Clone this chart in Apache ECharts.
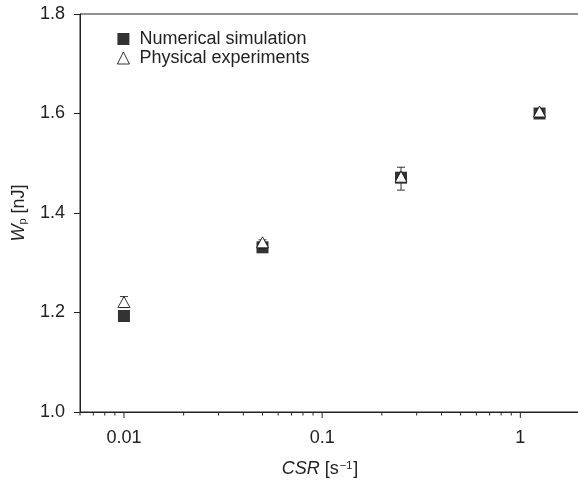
<!DOCTYPE html>
<html>
<head>
<meta charset="utf-8">
<script src="https://cdn.jsdelivr.net/npm/echarts@6/dist/echarts.min.js"></script>
<style>html,body{margin:0;padding:0;background:#fff;}#chart{width:578px;height:480px;}</style>
</head>
<body>
<div id="chart"></div>
<script>
const csrValues = [0.01, 0.05, 0.25, 1.25];
const numerical = [1.193, 1.331, 1.471, 1.600];
const experiments = [1.221, 1.341, 1.473, 1.604];
const expLow = [1.210, 1.336, 1.446, 1.599];
const expHigh = [1.232, 1.346, 1.492, 1.609];
const majorTicks = [0.01, 0.1, 1];
const majorTickLabels = ['0.01', '0.1', '1'];
const minorTicks = [0.006, 0.007, 0.008, 0.009, 0.02, 0.03, 0.04, 0.05, 0.06, 0.07, 0.08, 0.09,
  0.2, 0.3, 0.4, 0.5, 0.6, 0.7, 0.8, 0.9, 2];
const yMin = 1.0, yMax = 1.8, yStep = 0.2;
const xMin = 0.006, xMax = 2;

const FONT = 'Liberation Sans';
const TXT = '#222';

const tickData = majorTicks.map(v => [v, yMin, 6]).concat(minorTicks.map(v => [v, yMin, 3.5]));

const chart = echarts.init(document.getElementById('chart'));
chart.setOption({
  animation: false,
  textStyle: { fontFamily: FONT },
  grid: { left: 80, top: 14, right: -2, bottom: 68, containLabel: false, outerBoundsMode: 'none',
    show: true, borderColor: TXT, borderWidth: 1, backgroundColor: 'transparent' },
  legend: {
    orient: 'vertical', left: 112, top: 25, itemWidth: 12, itemHeight: 12, itemGap: 1,
    textStyle: { fontFamily: FONT, fontSize: 18, color: TXT, lineHeight: 18, padding: [0, 0, 0, 5] },
    data: [
      { name: 'Numerical simulation' },
      { name: 'Physical experiments', itemStyle: { borderWidth: 0.8 } }
    ]
  },
  xAxis: {
    type: 'log', logBase: 10, min: xMin, max: xMax,
    axisLine: { lineStyle: { color: TXT, width: 1 } },
    axisTick: { show: false },
    splitLine: { show: false },
    axisLabel: {
      fontSize: 18, color: TXT, margin: 17, showMinLabel: false, showMaxLabel: false,
      formatter: function (v) {
        for (let i = 0; i < majorTicks.length; i++) {
          if (Math.abs(Math.log10(v) - Math.log10(majorTicks[i])) < 1e-6) return majorTickLabels[i];
        }
        return '';
      }
    },
    name: '{i|CSR}{n| [s}{sup|\u22121}{n|]}',
    nameLocation: 'middle', nameGap: 48,
    nameTextStyle: {
      padding: [0, 20, 0, 0],
      rich: {
        i: { fontFamily: FONT, fontSize: 18, fontStyle: 'italic', color: TXT },
        n: { fontFamily: FONT, fontSize: 18, color: TXT },
        sup: { fontFamily: FONT, fontSize: 11, color: TXT, verticalAlign: 'top', padding: [0, 1, 4, 1] }
      }
    }
  },
  yAxis: {
    type: 'value', min: yMin, max: yMax, interval: yStep,
    axisLine: { show: true, lineStyle: { color: TXT, width: 1 } },
    axisTick: { show: true, inside: false, length: 6, lineStyle: { color: TXT } },
    splitLine: { show: false },
    axisLabel: { fontSize: 18, color: TXT, margin: 15, formatter: v => v.toFixed(1) },
    name: '{i|W}{s|p}{n| [nJ]}',
    nameLocation: 'middle', nameGap: 52, nameRotate: 90,
    nameTextStyle: {
      rich: {
        i: { fontFamily: FONT, fontSize: 18, fontStyle: 'italic', color: TXT },
        s: { fontFamily: FONT, fontSize: 11, color: TXT, verticalAlign: 'bottom', padding: [4, 0, 0, 0] },
        n: { fontFamily: FONT, fontSize: 18, color: TXT }
      }
    }
  },
  series: [
    {
      type: 'custom', name: 'ticks', silent: true, clip: false, z: 1,
      data: tickData,
      renderItem: function (params, api) {
        const p = api.coord([api.value(0), api.value(1)]);
        const len = api.value(2);
        return { type: 'line', shape: { x1: p[0], y1: p[1], x2: p[0], y2: p[1] + len }, style: { stroke: TXT, lineWidth: 1 } };
      }
    },
    {
      type: 'scatter', name: 'Numerical simulation', symbol: 'rect', symbolSize: 12, z: 2,
      itemStyle: { color: '#000', borderColor: '#000', borderWidth: 0 },
      data: csrValues.map((x, i) => [x, numerical[i]])
    },
    {
      type: 'custom', name: 'errors', silent: true, clip: false, z: 3,
      data: csrValues.map((x, i) => [x, expLow[i], expHigh[i]]),
      renderItem: function (params, api) {
        const lo = api.coord([api.value(0), api.value(1)]);
        const hi = api.coord([api.value(0), api.value(2)]);
        const w = 4;
        const st = { stroke: '#333', lineWidth: 1 };
        return { type: 'group', children: [
          { type: 'line', shape: { x1: lo[0], y1: lo[1], x2: hi[0], y2: hi[1] }, style: st },
          { type: 'line', shape: { x1: lo[0] - w, y1: lo[1], x2: lo[0] + w, y2: lo[1] }, style: st },
          { type: 'line', shape: { x1: hi[0] - w, y1: hi[1], x2: hi[0] + w, y2: hi[1] }, style: st }
        ] };
      }
    },
    {
      type: 'scatter', name: 'Physical experiments', symbol: 'triangle', symbolSize: [12, 11], z: 4,
      itemStyle: { color: '#fff', borderColor: '#000', borderWidth: 0.8, opacity: 1 },
      data: csrValues.map((x, i) => [x, experiments[i]])
    }
  ]
});
</script>
</body>
</html>
